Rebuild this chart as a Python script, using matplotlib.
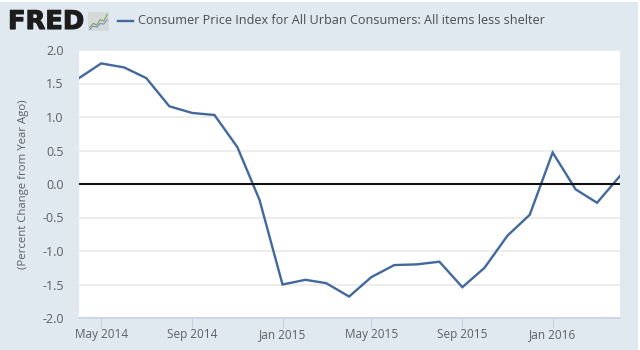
import matplotlib
matplotlib.use("Agg")
import matplotlib.pyplot as plt
import matplotlib.patheffects as pe
import pandas as pd

# Data
months = pd.date_range("2014-04-01", "2016-04-01", freq="MS")
cpiValues = [1.58, 1.80, 1.74, 1.58, 1.16, 1.06, 1.03, 0.55, -0.24,
             -1.50, -1.43, -1.48, -1.68, -1.39, -1.21, -1.20, -1.16, -1.54,
             -1.25, -0.77, -0.46, 0.47, -0.08, -0.28, 0.12]
yTicks = [-2.0, -1.5, -1.0, -0.5, 0.0, 0.5, 1.0, 1.5, 2.0]
xTicks = pd.to_datetime(["2014-05-01", "2014-09-01", "2015-01-01",
                         "2015-05-01", "2015-09-01", "2016-01-01"])
seriesName = "Consumer Price Index for All Urban Consumers: All items less shelter"
yName = "(Percent Change from Year Ago)"

W, H = 640, 350
bgColor = "#e1e9f0"
textColor = "#5a6066"
lineColor = "#41699b"

plt.rcParams['font.family'] = ['Open Sans', 'DejaVu Sans']

fig = plt.figure(figsize=(W / 100, H / 100), dpi=100, facecolor="white")

# Light blue panel behind everything, leaves thin white edge
fig.add_artist(plt.Rectangle((0, 0), 638 / W, 348 / H, transform=fig.transFigure,
                             facecolor=bgColor, edgecolor="none", zorder=-1))

ax = fig.add_axes([79 / W, 1 - 318 / H, (620 - 79) / W, (318 - 50) / H], zorder=1)
ax.set_facecolor("white")
ax.plot(months, cpiValues, color=lineColor, linewidth=1.7, solid_joinstyle="miter", zorder=3)
ax.axhline(0, color="#111111", linewidth=1.5, zorder=4)

ax.set_xlim(months[0], months[-1])
ax.set_ylim(-2, 2)
ax.set_yticks(yTicks)
ax.set_yticklabels(["%.1f" % v for v in yTicks])
ax.set_xticks(xTicks)
ax.set_xticklabels([d.strftime("%b %Y") for d in xTicks])
ax.grid(axis="y", color="#e8e8e8", linewidth=1.1, zorder=1)
ax.tick_params(axis="y", length=0, labelsize=9, labelcolor=textColor, pad=11)
ax.tick_params(axis="x", length=7, width=0.7, color="#c0d0e0", labelsize=8.5,
               labelcolor=textColor, pad=0)
for name in ["top", "left", "right"]:
    ax.spines[name].set_visible(False)
ax.spines["bottom"].set_color("#c8d3e6")
ax.spines["bottom"].set_linewidth(1.2)
ax.set_ylabel(yName, fontsize=8.2, color=textColor)
ax.yaxis.set_label_coords((29 - 79) / (620 - 79), 0.50)

# FRED logo
fig.text(8 / W, 1 - 22 / H, "FRED", fontsize=18.5, fontweight="bold", color="#1c1c1c",
         family="DejaVu Sans", va="center", ha="left",
         path_effects=[pe.withStroke(linewidth=0.8, foreground="#1c1c1c")])

# small logo icon
icon = fig.add_axes([88 / W, 1 - 31 / H, 21 / W, 19 / H], zorder=2)
icon.set_facecolor("#d5d9d8")
icon.plot([0, 1, 2, 3, 4, 5], [1, 2, 1.6, 3, 2.6, 4.4], color="#7f9f6a", linewidth=0.8)
icon.plot([0, 1, 2, 3, 4, 5], [0.4, 1.3, 1.0, 2.0, 1.8, 3.0], color="#6f93b5", linewidth=0.8)
icon.set_xlim(-0.5, 5.5)
icon.set_ylim(0, 5)
icon.set_xticks([])
icon.set_yticks([])
for name in icon.spines:
    icon.spines[name].set_visible(False)

# Legend
fig.add_artist(plt.Line2D([118 / W, 133 / W], [1 - 21 / H, 1 - 21 / H], color=lineColor, linewidth=1.7))
fig.text(138 / W, 1 - 21 / H, seriesName, fontsize=9.1, color="#4a4f54", va="center", ha="left")

fig.savefig("out.png", dpi=100, facecolor="white")
